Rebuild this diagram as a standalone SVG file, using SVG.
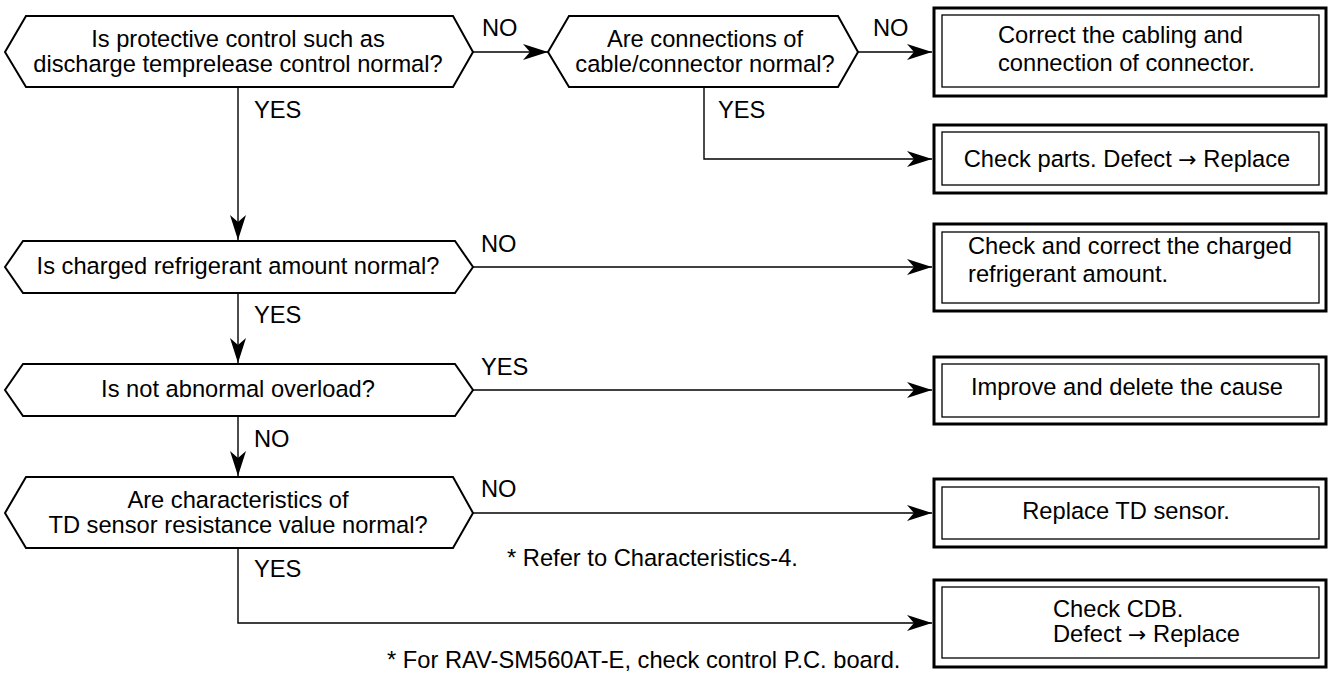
<svg xmlns="http://www.w3.org/2000/svg" width="1328" height="675" viewBox="0 0 1328 675">
<style>
.t{font-family:"Liberation Sans",Arial,Helvetica,sans-serif;font-size:23.7px;fill:#000}
.c{text-anchor:middle}
.ar{font-family:"DejaVu Sans",sans-serif;font-size:22px}
.hex{fill:#fff;stroke:#000;stroke-width:2;stroke-linejoin:miter}
.outer{fill:#fff;stroke:#000;stroke-width:3}
.inner{fill:none;stroke:#000;stroke-width:1.3}
.ln{fill:none;stroke:#000;stroke-width:1.4;marker-end:url(#ah)}
</style>
<defs>
<marker id="ah" markerUnits="userSpaceOnUse" markerWidth="28" markerHeight="18" viewBox="-26 -9 28 18" refX="0" refY="0" orient="auto">
<path d="M0,0 L-25,-8 L-18,0 L-25,8 Z" fill="#000"/>
</marker>
</defs>
<rect width="1328" height="675" fill="#fff"/>

<g id="connectors">
<path class="ln" d="M473,52 H548"/>
<path class="ln" d="M858,52 H932"/>
<path class="ln" d="M704,87 V159 H932"/>
<path class="ln" d="M238,87 V240"/>
<path class="ln" d="M473,267 H932"/>
<path class="ln" d="M238,293 V363"/>
<path class="ln" d="M473,390 H932"/>
<path class="ln" d="M238,416 V476"/>
<path class="ln" d="M473,513 H932"/>
<path class="ln" d="M238,548 V623 H932"/>
<text class="t" x="482" y="36">NO</text>
<text class="t" x="873" y="36">NO</text>
<text class="t" x="254" y="118">YES</text>
<text class="t" x="718" y="118">YES</text>
<text class="t" x="481" y="252">NO</text>
<text class="t" x="254" y="323">YES</text>
<text class="t" x="481" y="375">YES</text>
<text class="t" x="254" y="447">NO</text>
<text class="t" x="481" y="497">NO</text>
<text class="t" x="254" y="577">YES</text>
</g>

<g id="q1">
<polygon class="hex" points="5,52 26,16 453,16 473,52 453,87 26,87"/>
<text class="t c" x="238" y="47">Is protective control such as</text>
<text class="t c" x="238" y="72">discharge temprelease control normal?</text>
</g>
<g id="q2">
<polygon class="hex" points="548,52 569,16 838,16 858,52 838,87 569,87"/>
<text class="t c" x="705" y="47">Are connections of</text>
<text class="t c" x="705" y="72">cable/connector normal?</text>
</g>
<g id="q3">
<polygon class="hex" points="5,267 23,241 455,241 473,267 455,293 23,293"/>
<text class="t c" x="238" y="274">Is charged refrigerant amount normal?</text>
</g>
<g id="q4">
<polygon class="hex" points="5,390 23,364 455,364 473,390 455,416 23,416"/>
<text class="t c" x="238" y="397">Is not abnormal overload?</text>
</g>
<g id="q5">
<polygon class="hex" points="5,513 26,477 453,477 473,513 453,548 26,548"/>
<text class="t c" x="238" y="508">Are characteristics of</text>
<text class="t c" x="238" y="533">TD sensor resistance value normal?</text>
</g>

<g id="b1">
<rect class="outer" x="934" y="8" width="392" height="88"/>
<rect class="inner" x="942" y="15" width="377" height="72"/>
<text class="t" x="998" y="43">Correct the cabling and</text>
<text class="t" x="998" y="71">connection of connector.</text>
</g>
<g id="b2">
<rect class="outer" x="934" y="125" width="392" height="68"/>
<rect class="inner" x="942" y="132" width="377" height="53"/>
<text class="t c" x="1127" y="167">Check parts. Defect <tspan class="ar">→</tspan> Replace</text>
</g>
<g id="b3">
<rect class="outer" x="934" y="224" width="392" height="87"/>
<rect class="inner" x="942" y="232" width="377" height="71"/>
<text class="t" x="968" y="254">Check and correct the charged</text>
<text class="t" x="968" y="282">refrigerant amount.</text>
</g>
<g id="b4">
<rect class="outer" x="934" y="357" width="392" height="67"/>
<rect class="inner" x="942" y="364" width="377" height="53"/>
<text class="t c" x="1127" y="395">Improve and delete the cause</text>
</g>
<g id="b5">
<rect class="outer" x="934" y="479" width="392" height="68"/>
<rect class="inner" x="942" y="487" width="377" height="52"/>
<text class="t c" x="1126" y="519">Replace TD sensor.</text>
</g>
<g id="b6">
<rect class="outer" x="934" y="580" width="392" height="87"/>
<rect class="inner" x="942" y="587" width="377" height="71"/>
<text class="t" x="1053" y="617">Check CDB.</text>
<text class="t" x="1053" y="642">Defect <tspan class="ar">→</tspan> Replace</text>
</g>

<g id="notes">
<text class="t" x="507" y="566">* Refer to Characteristics-4.</text>
<text class="t" x="387" y="668">* For RAV-SM560AT-E, check control P.C. board.</text>
</g>
</svg>
